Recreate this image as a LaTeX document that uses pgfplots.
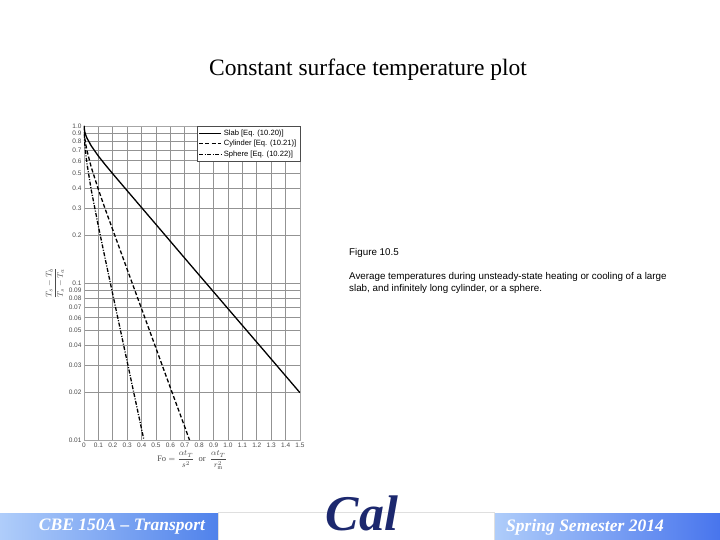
\documentclass[border=0pt]{standalone}
\usepackage{amsmath}
\usepackage{pgfplots}
\pgfplotsset{compat=1.18}
\usepackage{fontspec}
\setmainfont{Liberation Serif}
\newfontfamily\arial{Liberation Sans}
\definecolor{navy}{RGB}{28,40,110}
\definecolor{barL}{RGB}{175,205,250}
\definecolor{barR}{RGB}{80,130,235}
\begin{document}
\begin{tikzpicture}
\useasboundingbox (0pt,0pt) rectangle (720pt,540pt);
\fill[white] (0pt,0pt) rectangle (720pt,540pt);
% title
\node[font=\fontsize{23.5}{26}\selectfont] at (368pt,470pt) {Constant surface temperature plot};
% caption
\node[anchor=west,inner sep=0pt,font=\arial\fontsize{9.8}{11}\selectfont] at (349pt,287pt) {Figure 10.5};
\node[anchor=north west,inner sep=0pt,align=left,font=\arial\fontsize{9.8}{12}\selectfont] at (349pt,268pt) {Average temperatures during unsteady-state heating or cooling of a large\\slab, and infinitely long cylinder, or a sphere.};
\begin{axis}[
  at={(84pt,100pt)}, anchor=south west,
  scale only axis, width=216pt, height=314pt,
  xmin=0, xmax=1.5, ymin=0.01, ymax=1, ymode=log,
  xtick={0,0.1,0.2,0.3,0.4,0.5,0.6,0.7,0.8,0.9,1.0,1.1,1.2,1.3,1.4,1.5},
  xticklabels={0,0.1,0.2,0.3,0.4,0.5,0.6,0.7,0.8,0.9,1.0,1.1,1.2,1.3,1.4,1.5},
  ytick={0.01,0.02,0.03,0.04,0.05,0.06,0.07,0.08,0.09,0.1,0.2,0.3,0.4,0.5,0.6,0.7,0.8,0.9,1.0},
  yticklabels={0.01,0.02,0.03,0.04,0.05,0.06,0.07,0.08,0.09,0.1,0.2,0.3,0.4,0.5,0.6,0.7,0.8,0.9,1.0},
  minor tick num=0,
  grid=major,
  major grid style={gray!85, line width=0.7pt},
  axis line style={gray!70, line width=0.7pt},
  tick style={draw=none},
  /pgf/number format/assume math mode=true,
  tick label style={font=\arial\fontsize{6.5}{7}\selectfont, text=black!70},
  xticklabel style={yshift=1pt},
  yticklabel style={xshift=1pt},
  xlabel={\fontsize{8.5}{9}\selectfont $\mathrm{Fo}=\dfrac{\alpha t_T}{s^2}$ \ or \ $\dfrac{\alpha t_T}{r_{\mathrm{m}}^{2}}$},
  xlabel style={text=black!70, yshift=3pt},
  ylabel={\fontsize{8.5}{9}\selectfont $\dfrac{T_s-T_b}{T_s-T_a}$},
  ylabel style={text=black!70, yshift=-2pt},
  legend style={at={(1,1)}, anchor=north east, font=\arial\fontsize{7.6}{8.5}\selectfont, draw=black!70, inner sep=1.5pt, row sep=-0.5pt, fill=white},
  legend image code/.code={\draw[#1] (0pt,0pt) -- (22pt,0pt);},
  legend cell align=left,
]
\addplot[black, line width=1.3pt] coordinates {
 (0,1.0) (0.005,0.920) (0.01,0.887) (0.02,0.840) (0.05,0.748) (0.1,0.643)
 (0.15,0.563) (0.2,0.496) (0.3,0.387) (0.5,0.236) (0.75,0.127) (1.0,0.0686)
 (1.25,0.0371) (1.5,0.0200)};
\addlegendentry{Slab [Eq. (10.20)]}
\addplot[black, line width=1.3pt, dash pattern=on 4pt off 2.2pt] coordinates {
 (0,1.0) (0.005,0.845) (0.01,0.784) (0.02,0.701) (0.05,0.548) (0.1,0.394)
 (0.15,0.291) (0.2,0.218) (0.3,0.122) (0.4,0.0685) (0.5,0.0384) (0.6,0.0215)
 (0.7,0.0121) (0.7326,0.0100)};
\addlegendentry{Cylinder [Eq. (10.21)]}
\addplot[black, line width=1.3pt, dash pattern=on 4pt off 1.5pt on 1pt off 1.5pt] coordinates {
 (0,1.0) (0.005,0.776) (0.01,0.692) (0.02,0.581) (0.05,0.393) (0.1,0.2295)
 (0.15,0.1387) (0.2,0.0845) (0.25,0.0516) (0.3,0.0315) (0.35,0.0192) (0.4162,0.0100)};
\addlegendentry{Sphere [Eq. (10.22)]}
\end{axis}
% bottom bars
\shade[left color=barL, right color=barR] (0pt,0pt) rectangle (218pt,26pt);
\shade[left color=barL, right color=barR!90!blue] (494pt,0pt) rectangle (720pt,26pt);
\draw[gray!25] (218pt,0pt) -- (218pt,28pt) -- (494pt,28pt) -- (494pt,0pt);
\node[text=white, font=\bfseries\itshape\fontsize{17.5}{19}\selectfont] at (122pt,13pt) {CBE 150A -- Transport};
\node[text=white, font=\bfseries\itshape\fontsize{17.5}{19}\selectfont] at (585pt,13pt) {Spring Semester 2014};
\node[text=navy, font=\bfseries\itshape\fontsize{50}{52}\selectfont] at (362pt,27pt) {Cal};
\end{tikzpicture}
\end{document}
